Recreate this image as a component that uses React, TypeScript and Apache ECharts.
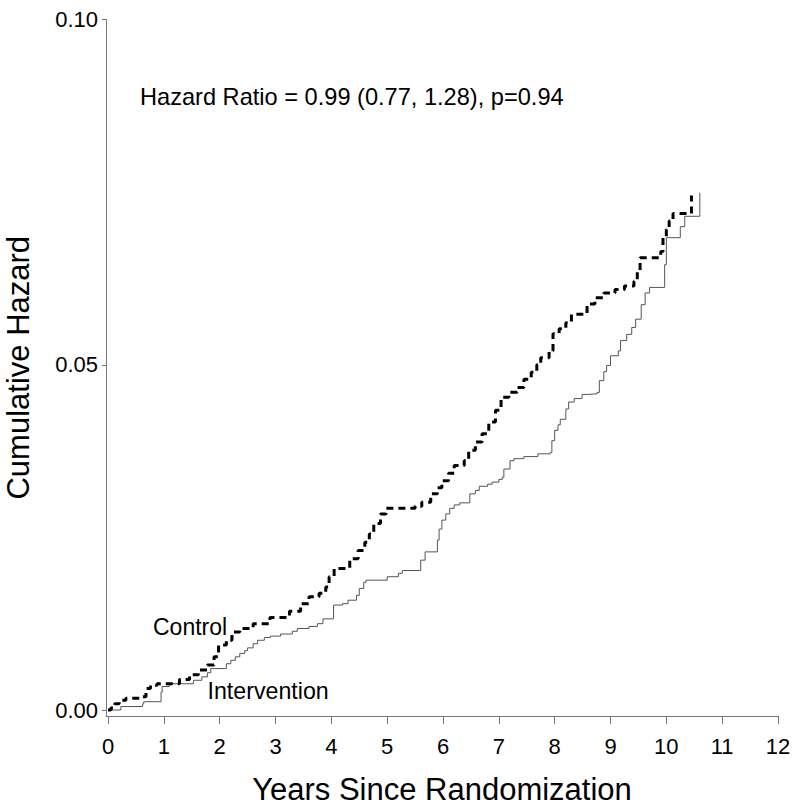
import React, { useEffect, useRef } from "react";
import * as echarts from "echarts";

const interventionTime = [0, 0.23, 0.62, 0.64, 0.95, 0.97, 1.1, 1.53, 1.68, 1.78, 1.84, 2.12, 2.2, 2.28, 2.36, 2.45, 2.5, 2.6, 2.68, 2.8, 2.91, 3.09, 3.3, 3.39, 3.6, 3.75, 3.85, 4.04, 4.2, 4.3, 4.45, 4.5, 4.58, 4.62, 5.0, 5.2, 5.27, 5.6, 5.68, 5.9, 5.93, 5.98, 6.05, 6.12, 6.2, 6.3, 6.48, 6.58, 6.65, 6.8, 6.88, 7.0, 7.06, 7.09, 7.2, 7.27, 7.45, 7.7, 7.92, 7.95, 8.0, 8.06, 8.1, 8.2, 8.25, 8.35, 8.49, 8.6, 8.76, 8.8, 8.88, 8.93, 9.0, 9.14, 9.18, 9.29, 9.38, 9.45, 9.55, 9.62, 9.7, 9.97, 10.0, 10.25, 10.33, 10.6];
const interventionHazard = [0, 0.0005, 0.0009, 0.0012, 0.0026, 0.0034, 0.0038, 0.0043, 0.0048, 0.0054, 0.006, 0.0067, 0.0072, 0.0077, 0.0082, 0.0086, 0.009, 0.0096, 0.0101, 0.0105, 0.0107, 0.011, 0.0114, 0.0118, 0.0121, 0.0125, 0.0132, 0.0152, 0.0154, 0.0159, 0.0166, 0.0176, 0.0185, 0.0188, 0.0193, 0.0198, 0.0202, 0.0217, 0.0229, 0.0246, 0.0262, 0.0275, 0.0284, 0.0292, 0.0297, 0.03, 0.0313, 0.0318, 0.0324, 0.0327, 0.033, 0.0334, 0.0337, 0.0349, 0.0361, 0.0364, 0.0367, 0.0371, 0.0373, 0.039, 0.0405, 0.0413, 0.0421, 0.0436, 0.0446, 0.0451, 0.0457, 0.0458, 0.046, 0.0477, 0.049, 0.0499, 0.0513, 0.052, 0.0535, 0.0544, 0.0554, 0.0566, 0.0587, 0.0604, 0.0612, 0.0645, 0.0684, 0.07, 0.0715, 0.0749];

const controlTime = [0, 0.05, 0.12, 0.2, 0.32, 0.62, 0.68, 0.76, 0.88, 1.28, 1.46, 1.62, 1.78, 1.9, 1.98, 2.12, 2.22, 2.36, 2.6, 2.9, 3.25, 3.45, 3.6, 3.78, 3.9, 3.96, 4.05, 4.33, 4.48, 4.6, 4.68, 4.76, 4.88, 4.98, 5.5, 5.62, 5.78, 5.9, 5.98, 6.1, 6.2, 6.38, 6.46, 6.58, 6.7, 6.82, 6.94, 7.04, 7.18, 7.33, 7.45, 7.58, 7.68, 7.75, 7.9, 7.97, 8.08, 8.2, 8.3, 8.58, 8.72, 8.88, 9.08, 9.25, 9.42, 9.48, 9.53, 9.9, 9.94, 10.0, 10.05, 10.12, 10.45];
const controlHazard = [0, 0.0003, 0.0009, 0.0014, 0.0017, 0.0019, 0.0031, 0.0036, 0.0038, 0.0044, 0.0051, 0.0058, 0.0065, 0.0077, 0.0094, 0.0101, 0.0113, 0.0118, 0.0125, 0.0134, 0.0143, 0.0154, 0.0164, 0.0169, 0.0178, 0.0193, 0.0205, 0.0219, 0.0231, 0.0243, 0.0255, 0.027, 0.0284, 0.0292, 0.0295, 0.0301, 0.0313, 0.0322, 0.0332, 0.0343, 0.0354, 0.0361, 0.0376, 0.0388, 0.04, 0.0417, 0.0434, 0.0453, 0.046, 0.0467, 0.0479, 0.0489, 0.05, 0.051, 0.052, 0.0545, 0.0552, 0.0561, 0.0573, 0.0588, 0.0597, 0.0604, 0.0609, 0.0614, 0.0621, 0.0636, 0.0655, 0.0664, 0.0684, 0.0696, 0.0708, 0.0719, 0.0745];

const xTicks = { min: 0, max: 12, interval: 1 };
const yTicks = { min: 0, max: 0.1, interval: 0.05 };

const xTitle = "Years Since Randomization";
const yTitle = "Cumulative Hazard";
const hrText = "Hazard Ratio = 0.99 (0.77, 1.28), p=0.94";
const controlName = "Control";
const interventionName = "Intervention";

const FONT = "'Liberation Sans', Arial, sans-serif";

export default function App() {
  const ref = useRef<HTMLDivElement>(null);
  useEffect(() => {
    if (!ref.current) return;
    const chart = echarts.init(ref.current, null, { renderer: "svg" });
    const ctrl = controlTime.map((t, i) => [t, controlHazard[i]]);
    const intv = interventionTime.map((t, i) => [t, interventionHazard[i]]);
    chart.setOption({
      animation: false,
      backgroundColor: "#ffffff",
      textStyle: { fontFamily: FONT },
      grid: [
        { left: 106, right: 22, top: 19.5, bottom: 94, containLabel: false, outerBoundsMode: "none" },
        { left: 108, right: 22, top: 19.5, bottom: 100, containLabel: false, outerBoundsMode: "none" },
      ],
      xAxis: [
        {
          type: "value",
          gridIndex: 0,
          min: -0.036,
          max: 12,
          axisLine: { show: true, onZero: false, lineStyle: { color: "#777", width: 1 } },
          axisTick: { show: false },
          axisLabel: { show: false },
          splitLine: { show: false },
          name: xTitle,
          nameLocation: "middle",
          nameGap: 58,
          nameTextStyle: { fontSize: 31, color: "#000", fontFamily: FONT },
        },
        {
          type: "value",
          gridIndex: 1,
          min: xTicks.min,
          max: xTicks.max,
          interval: xTicks.interval,
          offset: 6,
          axisLine: { show: false, onZero: false },
          axisTick: { show: true, length: 8, lineStyle: { color: "#777" } },
          axisLabel: { show: true, fontSize: 22, color: "#000", margin: 19, fontFamily: FONT },
          splitLine: { show: false },
        },
      ],
      yAxis: [
        {
          type: "value",
          gridIndex: 0,
          min: -0.00087,
          max: 0.1,
          axisLine: { show: true, onZero: false, lineStyle: { color: "#777", width: 1 } },
          axisTick: { show: false },
          axisLabel: { show: false },
          splitLine: { show: false },
          name: yTitle,
          nameLocation: "middle",
          nameGap: 72,
          nameTextStyle: { fontSize: 31, color: "#000", fontFamily: FONT },
        },
        {
          type: "value",
          gridIndex: 1,
          min: yTicks.min,
          max: yTicks.max,
          interval: yTicks.interval,
          offset: 2,
          axisLine: { show: false, onZero: false },
          axisTick: { show: true, length: 4, lineStyle: { color: "#777" } },
          axisLabel: {
            show: true,
            fontSize: 22,
            color: "#000",
            margin: 8,
            fontFamily: FONT,
            formatter: (v: number) => v.toFixed(2),
          },
          splitLine: { show: false },
        },
      ],
      series: [
        {
          name: interventionName,
          type: "line",
          xAxisIndex: 0,
          yAxisIndex: 0,
          step: "end",
          showSymbol: false,
          symbol: "none",
          data: intv,
          lineStyle: { color: "#555", width: 1 },
          z: 2,
        },
        {
          name: controlName,
          type: "line",
          xAxisIndex: 0,
          yAxisIndex: 0,
          step: "end",
          showSymbol: false,
          symbol: "none",
          data: ctrl,
          lineStyle: { color: "#000", width: 3, type: [7, 5] },
          z: 3,
        },
      ],
      graphic: [
        {
          type: "text",
          left: 140,
          top: 85,
          style: { text: hrText, font: `23.6px ${FONT}`, fill: "#000" },
        },
        {
          type: "text",
          left: 153,
          top: 615,
          style: { text: controlName, font: `23px ${FONT}`, fill: "#000" },
        },
        {
          type: "text",
          left: 207.5,
          top: 679,
          style: { text: interventionName, font: `23.2px ${FONT}`, fill: "#000" },
        },
      ],
    });
    return () => chart.dispose();
  }, []);
  return (
    <div
      ref={ref}
      style={{ position: "fixed", left: 0, top: 0, width: 800, height: 810, background: "#fff" }}
    />
  );
}
